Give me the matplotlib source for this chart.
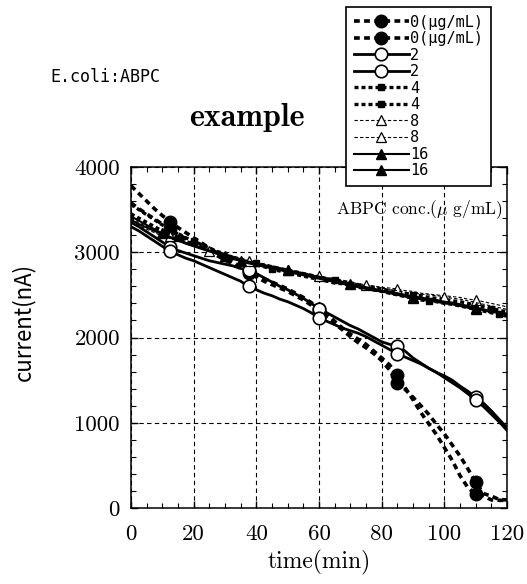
import numpy as np
import matplotlib
matplotlib.use("Agg")
import matplotlib.pyplot as plt
from matplotlib.ticker import MultipleLocator

plt.rcParams["mathtext.fontset"] = "cm"

# sample times (min), one reading every 2.5 min
TIME = np.arange(0, 122.5, 2.5)

# current (nA), rows of 10 samples
CONC_0A = [3780, 3690, 3600, 3510, 3430, 3360, 3290, 3230, 3170, 3110,
           3050, 2990, 2940, 2880, 2830, 2780, 2730, 2690, 2650, 2610,
           2570, 2520, 2470, 2410, 2340, 2270, 2190, 2110, 2040, 1980,
           1920, 1840, 1760, 1680, 1560, 1410, 1270, 1120, 990, 860,
           710, 560, 380, 240, 160, 140, 95, 90, 90]
CONC_0B = [3580, 3510, 3450, 3390, 3330, 3270, 3210, 3160, 3110, 3060,
           3010, 2960, 2910, 2860, 2810, 2760, 2710, 2660, 2620, 2580,
           2540, 2490, 2440, 2380, 2300, 2230, 2160, 2090, 2010, 1940,
           1880, 1810, 1730, 1620, 1470, 1390, 1300, 1200, 1100, 980,
           870, 740, 610, 460, 300, 170, 140, 100, 95]
CONC_2A = [3350, 3300, 3240, 3180, 3120, 3060, 3020, 2990, 2960, 2930,
           2900, 2880, 2860, 2840, 2810, 2790, 2750, 2700, 2650, 2600,
           2560, 2510, 2460, 2400, 2340, 2290, 2240, 2190, 2140, 2100,
           2050, 2000, 1950, 1920, 1900, 1840, 1760, 1700, 1640, 1590,
           1550, 1500, 1430, 1370, 1300, 1230, 1140, 1040, 940]
CONC_2B = [3300, 3250, 3190, 3130, 3070, 3010, 2970, 2930, 2900, 2860,
           2820, 2780, 2740, 2700, 2660, 2600, 2560, 2520, 2490, 2450,
           2420, 2380, 2340, 2290, 2230, 2190, 2150, 2110, 2080, 2050,
           2010, 1960, 1910, 1860, 1810, 1770, 1730, 1690, 1640, 1590,
           1530, 1470, 1410, 1340, 1270, 1190, 1100, 1010, 910]
CONC_4A = [3560, 3500, 3440, 3380, 3320, 3270, 3220, 3170, 3130, 3090,
           3050, 3010, 2980, 2940, 2910, 2880, 2850, 2830, 2800, 2780,
           2760, 2740, 2720, 2700, 2680, 2660, 2640, 2630, 2610, 2590,
           2570, 2560, 2540, 2520, 2500, 2480, 2460, 2440, 2430, 2420,
           2400, 2390, 2370, 2350, 2330, 2310, 2290, 2270, 2250]
CONC_4B = [3450, 3400, 3350, 3300, 3250, 3210, 3170, 3130, 3090, 3060,
           3030, 3000, 2970, 2940, 2920, 2890, 2870, 2850, 2830, 2810,
           2790, 2770, 2750, 2730, 2710, 2690, 2680, 2660, 2640, 2620,
           2600, 2590, 2570, 2550, 2540, 2520, 2500, 2490, 2470, 2460,
           2450, 2430, 2420, 2400, 2380, 2360, 2340, 2320, 2300]
CONC_8A = [3400, 3350, 3300, 3260, 3220, 3190, 3150, 3120, 3090, 3060,
           3030, 3000, 2980, 2950, 2930, 2900, 2880, 2860, 2840, 2820,
           2800, 2780, 2760, 2740, 2720, 2700, 2690, 2670, 2650, 2630,
           2620, 2600, 2590, 2580, 2570, 2550, 2540, 2520, 2510, 2500,
           2490, 2480, 2470, 2450, 2440, 2420, 2400, 2380, 2360]
CONC_8B = [3350, 3310, 3270, 3230, 3190, 3160, 3130, 3100, 3070, 3040,
           3010, 2990, 2960, 2940, 2910, 2890, 2870, 2850, 2830, 2810,
           2790, 2770, 2750, 2730, 2720, 2700, 2680, 2660, 2640, 2620,
           2610, 2590, 2580, 2560, 2550, 2530, 2520, 2510, 2500, 2490,
           2480, 2460, 2450, 2430, 2410, 2390, 2370, 2350, 2330]
CONC_16A = [3420, 3370, 3320, 3270, 3220, 3180, 3140, 3110, 3080, 3050,
            3020, 2990, 2960, 2940, 2910, 2890, 2870, 2850, 2830, 2810,
            2790, 2770, 2750, 2730, 2710, 2690, 2670, 2650, 2630, 2610,
            2590, 2570, 2550, 2540, 2520, 2500, 2480, 2470, 2450, 2440,
            2420, 2410, 2390, 2370, 2350, 2330, 2310, 2300, 2280]
CONC_16B = [3380, 3330, 3290, 3250, 3210, 3170, 3140, 3100, 3070, 3040,
            3010, 2980, 2950, 2920, 2900, 2870, 2850, 2830, 2810, 2790,
            2770, 2750, 2730, 2710, 2690, 2670, 2650, 2630, 2610, 2590,
            2570, 2550, 2540, 2520, 2500, 2480, 2460, 2450, 2430, 2420,
            2400, 2390, 2370, 2350, 2330, 2320, 2300, 2290, 2270]

LABELS = ["0(μg/mL)", "0(μg/mL)", "2", "2", "4", "4", "8", "8", "16", "16"]
XTICKS = [0, 20, 40, 60, 80, 100, 120]
YTICKS = [0, 1000, 2000, 3000, 4000]

SERIES = [CONC_0A, CONC_0B, CONC_2A, CONC_2B, CONC_4A,
          CONC_4B, CONC_8A, CONC_8B, CONC_16A, CONC_16B]

# line / marker look for each concentration
circle_pts = [5, 15, 24, 34, 44]
STYLES = [
    dict(ls=(0, (1.6, 1.2)), lw=2.6, marker="o", ms=9, mfc="black", markevery=circle_pts),
    dict(ls=(0, (1.6, 1.2)), lw=2.6, marker="o", ms=9, mfc="black", markevery=circle_pts),
    dict(ls="-", lw=2.0, marker="o", ms=9, mfc="white", mew=1.2, markevery=circle_pts),
    dict(ls="-", lw=2.0, marker="o", ms=9, mfc="white", mew=1.2, markevery=circle_pts),
    dict(ls=(0, (1.2, 0.9)), lw=2.4, marker="s", ms=4.5, mfc="black", markevery=[8, 18, 28, 38, 47]),
    dict(ls=(0, (1.2, 0.9)), lw=2.4, marker="s", ms=4.5, mfc="black", markevery=[6, 16, 26, 36, 46]),
    dict(ls=(0, (3, 2)), lw=0.8, marker="^", ms=7, mfc="white", mew=0.9, markevery=circle_pts),
    dict(ls=(0, (3, 2)), lw=0.8, marker="^", ms=7, mfc="white", mew=0.9, markevery=[10, 20, 30, 40]),
    dict(ls="-", lw=1.5, marker="^", ms=7.5, mfc="black", markevery=[4, 12, 20, 28, 36, 44]),
    dict(ls="-", lw=1.5, marker="^", ms=7.5, mfc="black", markevery=[14, 36, 44]),
]

fig = plt.figure(figsize=(5.27, 5.84), dpi=100)
ax = fig.add_axes([131 / 527, 1 - 508 / 584, 376 / 527, 341 / 584])

handles = []
for y, lab, st in zip(SERIES, LABELS, STYLES):
    h, = ax.plot(TIME, y, color="black", mec="black", label=lab, **st)
    handles.append(h)

ax.set_xlim(0, 120)
ax.set_ylim(0, 4000)
ax.set_xticks(XTICKS, labels=[str(v) for v in XTICKS], fontfamily="cmr10", fontsize=16.5)
ax.set_yticks(YTICKS, labels=[str(v) for v in YTICKS], fontfamily="cmr10", fontsize=16.5)
ax.xaxis.set_minor_locator(MultipleLocator(5))
ax.yaxis.set_minor_locator(MultipleLocator(200))
ax.tick_params(which="both", direction="in", top=True, right=True)
ax.tick_params(which="major", length=5, width=1)
ax.tick_params(which="minor", length=3.5, width=0.8)
ax.tick_params(axis="x", pad=12)
ax.tick_params(axis="y", pad=8)
for sp in ax.spines.values():
    sp.set_linewidth(1.1)
ax.grid(True, which="major", color="black", ls=(0, (4, 3)), lw=0.8)

ax.set_xlabel("time(min)", fontfamily="cmr10", fontsize=17, labelpad=4)
ax.set_ylabel("current(nA)", fontfamily="Noto Sans CJK JP", fontsize=16)
ax.yaxis.set_label_coords(-0.255, 0.545)

ax.text(0.989, 0.874, r"ABPC conc.($\mu$ g/mL)", transform=ax.transAxes,
        ha="right", va="center", fontfamily="cmr10", fontsize=12.5)

fig.text(50 / 527, 1 - 77 / 584, "E.coli:ABPC", ha="left", va="center",
         fontfamily="DejaVu Sans Mono", fontsize=12)
fig.text(247 / 527, 1 - 118 / 584, "example", ha="center", va="center",
         fontfamily="cmb10", fontsize=23)

leg = fig.legend(handles, LABELS, loc="upper left",
                 bbox_to_anchor=(346 / 527, 1 - 7 / 584), bbox_transform=fig.transFigure,
                 borderaxespad=0, fancybox=False, framealpha=1, edgecolor="black",
                 prop={"family": "DejaVu Sans Mono", "size": 11},
                 handlelength=3.6, handletextpad=0.1, labelspacing=0.1, borderpad=0.5)
leg.get_frame().set_linewidth(1.2)

fig.savefig("out.png", dpi=100)
